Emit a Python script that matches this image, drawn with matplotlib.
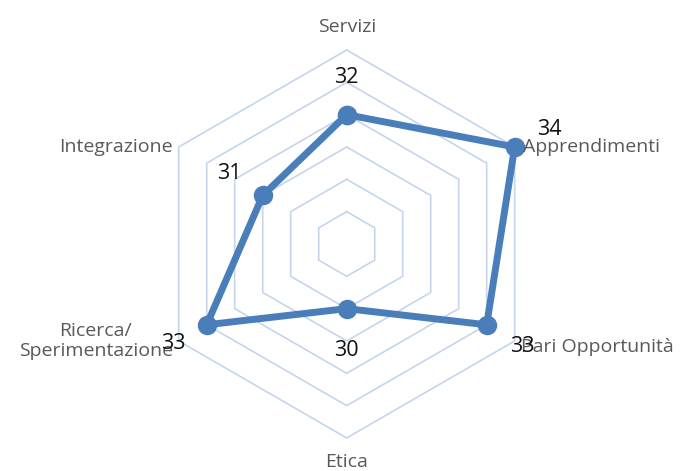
import numpy as np
import matplotlib
matplotlib.use("Agg")
import matplotlib.pyplot as plt

plt.rcParams['font.family'] = ['Open Sans', 'DejaVu Sans']

# data
categories = ["Servizi", "Apprendimenti", "Pari Opportunità", "Etica",
              "Ricerca/\nSperimentazione", "Integrazione"]
values = [32, 34, 33, 30, 33, 31]
rings = [29, 30, 31, 32, 33, 34]
r_min, r_max = 28, 34

line_col = "#4a7ebb"
grid_col = "#c4d5ec"

n = len(categories)
angles = np.linspace(0, 2 * np.pi, n, endpoint=False)
closed_ang = np.append(angles, angles[0])

fig = plt.figure(figsize=(6.83, 4.71), dpi=100)
ax = fig.add_axes([0.2236, 0.070, 0.568, 0.824], projection="polar")
ax.set_theta_offset(np.pi / 2)
ax.set_theta_direction(-1)
ax.set_ylim(r_min, r_max)
ax.grid(False)
ax.spines["polar"].set_visible(False)
ax.set_xticks([])
ax.set_yticks([])
ax.patch.set_alpha(0)

# hexagonal grid
for r in rings:
    ax.plot(closed_ang, [r] * (n + 1), color=grid_col, lw=1.2, zorder=1, clip_on=False)

# series
v = np.append(values, values[0])
ax.plot(closed_ang, v, color=line_col, lw=5, zorder=3, solid_joinstyle="round",
        marker="o", markersize=13, markerfacecolor=line_col, markeredgecolor=line_col,
        clip_on=False)

# category labels
label_r = [34.72, 34.0, 34.0, 34.75, 34.0, 34.0]
label_ha = ["center", "left", "left", "center", "right", "right"]
label_va = ["center", "center", "bottom", "center", "center", "center"]
label_dx = [0, 8, 6, 0, -6, -6]
label_dy = [0, 0, -15, 0, 0, 0]
for a, c, r, ha, va, dx, dy in zip(angles, categories, label_r, label_ha, label_va, label_dx, label_dy):
    ax.annotate(c, xy=(a, r), xytext=(dx, dy), textcoords="offset pixels",
                ha=ha, va=va, fontsize=14, color="#595959",
                multialignment="center", annotation_clip=False)

# data labels
offsets = [(0, 37), (35, 17), (36, -22), (0, -42), (-33, -19), (-33, 22)]
for a, val, off in zip(angles, values, offsets):
    ax.annotate(str(val), xy=(a, val), xytext=off, textcoords="offset pixels",
                ha="center", va="center", fontsize=15.5, color="#111111",
                annotation_clip=False, zorder=5)

fig.savefig("out.png", dpi=100)
